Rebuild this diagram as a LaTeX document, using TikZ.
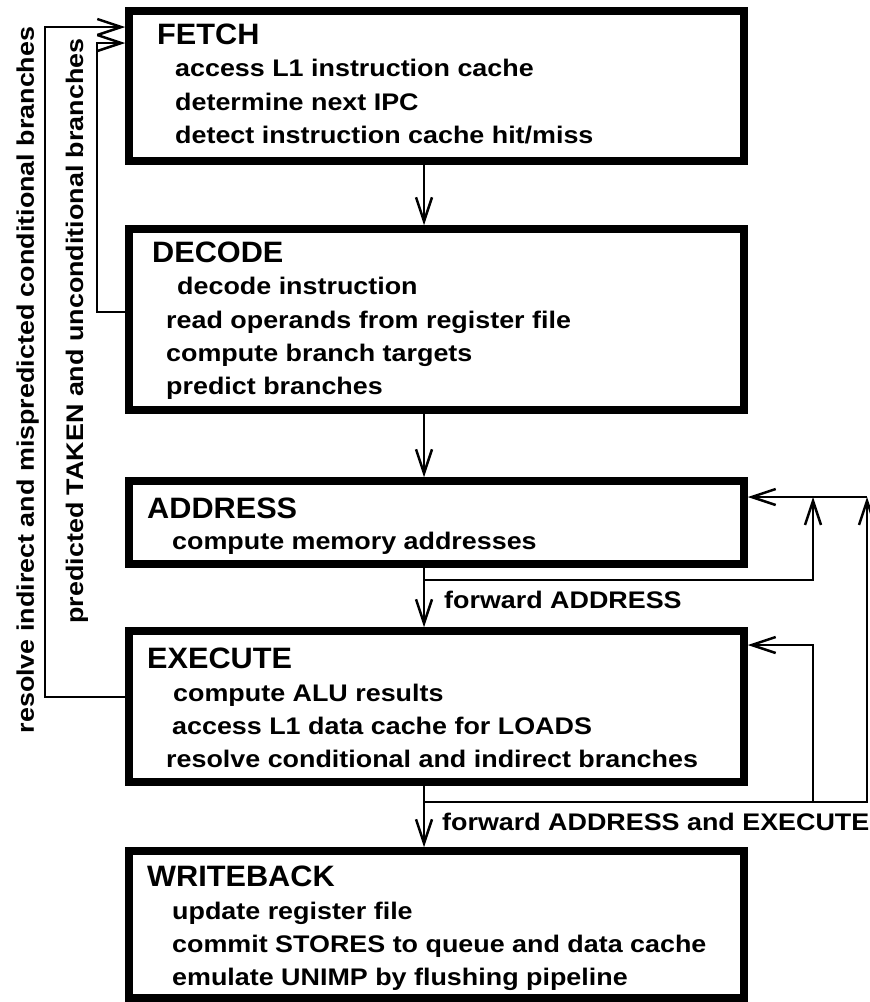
\documentclass[tikz,border=0pt]{standalone}
\usepackage{fontspec}
\usetikzlibrary{arrows.meta}
\newfontfamily\bodyf{Liberation Sans}[FakeStretch=1.12]
\newfontfamily\titlef{Liberation Sans}[FakeStretch=1.04]
\begin{document}
\begin{tikzpicture}[x=1pt,y=-1pt,
  stage/.style={draw,line width=7.5pt,inner sep=0pt,minimum width=615pt},
  ttl/.style={anchor=base west,inner sep=0pt,font=\titlef\bfseries\fontsize{29.5}{32}\selectfont},
  txt/.style={anchor=base west,inner sep=0pt,font=\bodyf\bfseries\fontsize{24}{27}\selectfont},
  conn/.style={line width=2.5pt,-{Straight Barb[length=24pt,width=16pt]}},
  plain/.style={line width=2.5pt}]
\useasboundingbox (0,0) rectangle (870,1002);
% boxes
\node[stage,minimum height=150pt] (fetch) at (436.5,86) {};
\node[stage,minimum height=181pt] (decode) at (436.5,319.5) {};
\node[stage,minimum height=83pt] (address) at (436.5,522.5) {};
\node[stage,minimum height=151pt] (execute) at (436.5,706.5) {};
\node[stage,minimum height=147pt] (writeback) at (436.5,924.5) {};
% texts
\node[ttl] (t1) at (157,44) {FETCH};
\node[txt] (f1) at (175,76) {access L1 instruction cache};
\node[txt] (f2) at (175,110) {determine next IPC};
\node[txt] (f3) at (175,143) {detect instruction cache hit/miss};
\node[ttl] (t2) at (152,262) {DECODE};
\node[txt] (d1) at (177,294) {decode instruction};
\node[txt] (d2) at (166,328) {read operands from register file};
\node[txt] (d3) at (166,361) {compute branch targets};
\node[txt] (d4) at (166,394) {predict branches};
\node[ttl] (t3) at (147,518) {ADDRESS};
\node[txt] (a1) at (172,549) {compute memory addresses};
\node[txt] (fa) at (444,608) {forward ADDRESS};
\node[ttl] (t4) at (147,668) {EXECUTE};
\node[txt] (e1) at (173,701) {compute ALU results};
\node[txt] (e2) at (172,734) {access L1 data cache for LOADS};
\node[txt] (e3) at (166,767) {resolve conditional and indirect branches};
\node[txt] (fe) at (442,830) {forward ADDRESS and EXECUTE};
\node[ttl] (t5) at (147,886) {WRITEBACK};
\node[txt] (w1) at (172,919) {update register file};
\node[txt] (w2) at (172,952) {commit STORES to queue and data cache};
\node[txt] (w3) at (172,985) {emulate UNIMP by flushing pipeline};
% rotated labels
\node[txt,anchor=base,rotate=90] (lb1) at (34,380) {resolve indirect and mispredicted conditional branches};
\node[txt,anchor=base,rotate=90] (lb2) at (83,331) {predicted TAKEN and unconditional branches};
% helper coordinates
\coordinate (vx) at (424,0);
\coordinate (L1) at (45,0);
\coordinate (L2) at (97,0);
\coordinate (R1) at (813,0);
\coordinate (R2) at (867,0);
% vertical flow
\draw[conn] (vx |- fetch.south) -- (vx |- decode.north);
\draw[conn] (vx |- decode.south) -- (vx |- address.north);
\draw[conn] (vx |- address.south) -- (vx |- execute.north);
\draw[conn] (vx |- execute.south) -- (vx |- writeback.north);
% left feedback
\draw[conn] (execute.west |- 0,697) -| (L1 |- 0,27) -- (fetch.west |- 0,27);
\draw[conn] (decode.west |- 0,312) -| (L2 |- 0,43) -- (fetch.west |- 0,43);
% right forwarding
\draw[conn] (vx |- 0,580) -| (R1 |- 0,497);
\draw[conn] (vx |- 0,802) -| (R2 |- 0,497);
\draw[conn] (R2 |- 0,497) -- (address.east |- 0,497);
\draw[conn] (R1 |- 0,802) |- (execute.east |- 0,645);
\end{tikzpicture}
\end{document}
